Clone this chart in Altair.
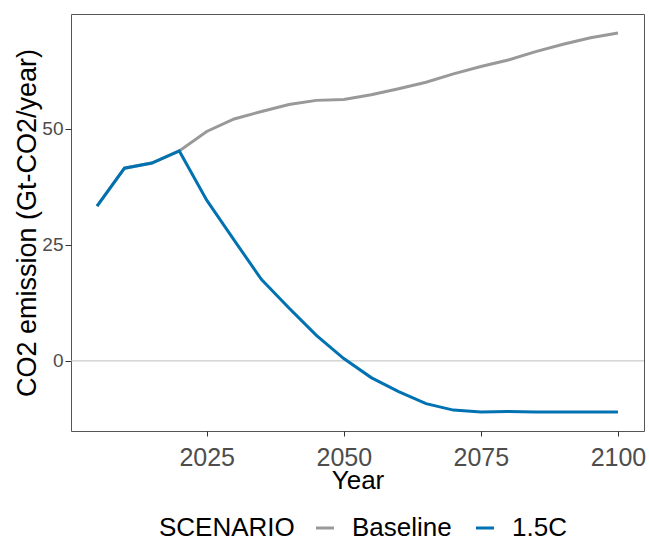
import altair as alt
import pandas as pd

# Emission pathways (Gt-CO2/year), 5-year steps
years = [2005, 2010, 2015, 2020, 2025, 2030, 2035, 2040, 2045, 2050,
         2055, 2060, 2065, 2070, 2075, 2080, 2085, 2090, 2095, 2100]
baseline = [33.3, 41.5, 42.6, 45.2, 49.4, 52.1, 53.7, 55.2, 56.1, 56.3,
            57.3, 58.6, 60.0, 61.8, 63.4, 64.8, 66.6, 68.2, 69.6, 70.6]
c15 = [33.3, 41.5, 42.6, 45.2, 34.6, 26.0, 17.5, 11.4, 5.5, 0.5,
       -3.6, -6.6, -9.2, -10.6, -11.0, -10.9, -11.0, -11.0, -11.0, -11.0]
scenarios = ["Baseline", "1.5C"]
colors = ["#999999", "#0072B2"]

df = pd.concat([
    pd.DataFrame({"Year": years, "Emission": baseline, "SCENARIO": "Baseline"}),
    pd.DataFrame({"Year": years, "Emission": c15, "SCENARIO": "1.5C"}),
])

FONT = "Liberation Sans"

x = alt.X("Year:Q",
          scale=alt.Scale(domain=[2000.25, 2104.75], nice=False, zero=False),
          axis=alt.Axis(values=[2025, 2050, 2075, 2100], format="d",
                        title="Year", grid=False, domain=False,
                        tickColor="#333333", tickSize=5, labelPadding=9,
                        labelFontSize=25, labelColor="#4D4D4D", labelFont=FONT,
                        titleFontSize=26, titleFont=FONT, titleColor="black",
                        titleFontWeight="normal", titleY=57.5,
                        titleBaseline="alphabetic"))
y = alt.Y("Emission:Q",
          scale=alt.Scale(domain=[-15.1, 74.7], nice=False, zero=False),
          axis=alt.Axis(values=[0, 25, 50], title="CO2 emission (Gt-CO2/year)",
                        grid=False, domain=False, tickColor="#333333",
                        tickSize=6, labelPadding=2, labelFontSize=19,
                        labelColor="#4D4D4D", labelFont=FONT,
                        titleFontSize=27, titleFont=FONT, titleColor="black",
                        titleFontWeight="normal", titleX=-36,
                        titleBaseline="alphabetic"))
color = alt.Color("SCENARIO:N",
                  scale=alt.Scale(domain=scenarios, range=colors),
                  legend=alt.Legend(orient="none", legendX=88, legendY=501,
                                    direction="horizontal", titleOrient="left",
                                    titleFontSize=26, titleFont=FONT,
                                    titleFontWeight="normal", titleColor="black",
                                    titlePadding=17, labelFontSize=26,
                                    labelFont=FONT, labelColor="black",
                                    labelOffset=14, columnPadding=18,
                                    symbolType="stroke", symbolSize=324,
                                    symbolStrokeWidth=3))

zero = alt.Chart(pd.DataFrame({"v": [0]})).mark_rule(
    color="#BEBEBE", strokeWidth=1).encode(y=alt.Y("v:Q"))

base_line = alt.Chart(df[df.SCENARIO == "Baseline"]).mark_line(
    strokeWidth=3).encode(x=x, y=y, color=color)
c15_line = alt.Chart(df[df.SCENARIO == "1.5C"]).mark_line(
    strokeWidth=3).encode(x=x, y=y, color=color)

chart = alt.layer(zero, base_line, c15_line).properties(
    width=573, height=417,
    background="white",
    autosize=alt.AutoSizeParams(type="none"),
    padding={"left": 71, "top": 14, "right": 5, "bottom": 110},
).configure_view(stroke="#555555", strokeWidth=1)

chart.save("out.html", embed_options={"renderer": "svg", "actions": False})
